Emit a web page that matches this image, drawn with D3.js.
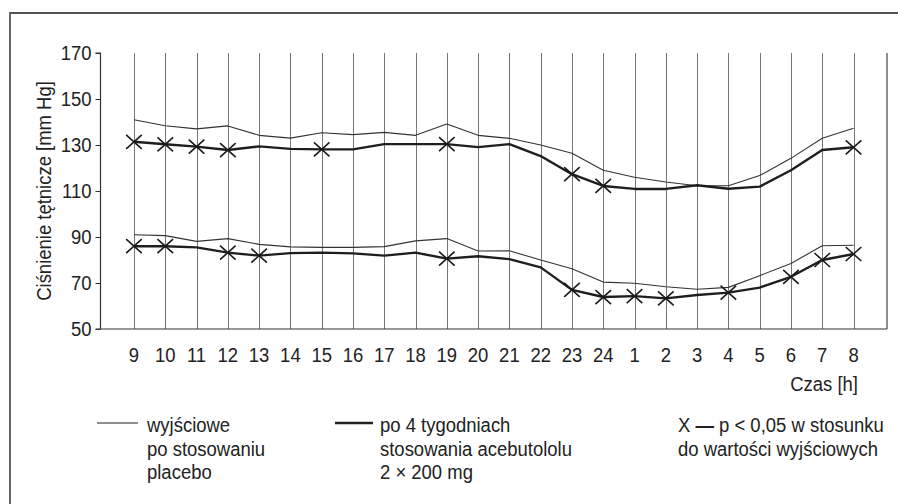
<!DOCTYPE html>
<html>
<head>
<meta charset="utf-8">
<script src="https://cdn.jsdelivr.net/npm/d3@7"></script>
<style>
  html, body { margin: 0; padding: 0; background: #fff; }
  svg { display: block; }
  text { font-family: "Liberation Sans", Arial, Helvetica, sans-serif; fill: #222; }
</style>
</head>
<body>
<svg id="chart" width="898" height="504"></svg>
<script>
// Hours of the 24-hour ambulatory recording
const hours = ["9","10","11","12","13","14","15","16","17","18","19","20","21","22","23","24","1","2","3","4","5","6","7","8"];

// Systolic pressure [mm Hg]
const placeboSys = [141, 138.4, 137, 138.3, 134.2, 133, 135.3, 134.5, 135.5, 134.2, 139.1, 134.2, 132.9, 130, 126.4, 119, 116, 113.9, 112.3, 112.3, 116.7, 124.2, 132.9, 137.3];
const acebSys    = [131.4, 130.3, 129.3, 127.8, 129.4, 128.3, 128.1, 128.1, 130.4, 130.4, 130.4, 129.1, 130.4, 125.2, 117.3, 112.2, 110.9, 110.9, 112.5, 111, 111.9, 119, 127.8, 129];

// Diastolic pressure [mm Hg]
const placeboDia = [91, 90.6, 88.1, 89.3, 86.8, 85.7, 85.5, 85.5, 85.8, 88.3, 89.3, 83.9, 84, 80, 76.2, 70.4, 69.9, 68.4, 67.3, 68.1, 73.2, 78.5, 86.2, 86.4];
const acebDia    = [86, 86, 85.5, 83.2, 81.9, 83, 83.2, 82.9, 81.9, 83.2, 80.6, 81.6, 80.4, 76.8, 67, 63.9, 64.3, 63.3, 64.8, 65.8, 68, 72.7, 80, 82.6];

// Hours with p < 0.05 versus baseline
const sysSignificant = ["9","10","11","12","15","19","23","24","8"];
const diaSignificant = ["9","10","12","13","19","23","24","1","2","4","6","7","8"];

const yTicks = [50, 70, 90, 110, 130, 150, 170];

// narrow text: regular sans squeezed horizontally
const SX = 0.88;
const FS = 21;

const svg = d3.select("#chart");

function label(parent, x, y, str, anchor, extra) {
  return parent.append("text")
    .attr("transform", `translate(${x},${y})${extra || ""} scale(${SX},1)`)
    .attr("text-anchor", anchor || "start")
    .attr("font-size", FS)
    .text(str);
}

// outer frame (open to the right and bottom)
svg.append("path")
  .attr("d", "M10,504 V13 H898")
  .attr("fill", "none")
  .attr("stroke", "#555")
  .attr("stroke-width", 1.8);

const plotLeft = 100.5, plotRight = 887, plotTop = 53, plotBottom = 329;

const x = d3.scalePoint().domain(hours).range([plotLeft, plotRight]).padding(1.07);
const y = d3.scaleLinear().domain([50, 170]).range([plotBottom, plotTop]);

// vertical hour lines
svg.append("g").selectAll("line")
  .data(hours)
  .join("line")
  .attr("x1", d => Math.round(x(d)) + 0.5)
  .attr("x2", d => Math.round(x(d)) + 0.5)
  .attr("y1", y(170))
  .attr("y2", y(50))
  .attr("stroke", "#777")
  .attr("stroke-width", 1);

// right edge of the plotting area
svg.append("line")
  .attr("x1", plotRight).attr("x2", plotRight)
  .attr("y1", y(170)).attr("y2", y(50))
  .attr("stroke", "#444").attr("stroke-width", 1.2);

// y axis
const yAxis = d3.axisLeft(y).tickValues(yTicks).tickSize(5).tickPadding(4);
const gy = svg.append("g").attr("transform", `translate(${plotLeft},0)`).call(yAxis);
gy.select(".domain").attr("stroke", "#333").attr("stroke-width", 1.2).attr("d", `M-5,${y(170)}H0V${y(50)}H-5`);
gy.selectAll(".tick line").attr("stroke", "#333");
gy.selectAll(".tick text")
  .attr("font-size", FS)
  .attr("font-family", '"Liberation Sans", Arial, sans-serif')
  .attr("fill", "#222")
  .attr("x", -9 / SX)
  .attr("transform", `scale(${SX},1)`);

// x axis baseline
svg.append("line")
  .attr("x1", plotLeft).attr("x2", plotRight)
  .attr("y1", y(50)).attr("y2", y(50))
  .attr("stroke", "#333").attr("stroke-width", 1.2);

// hour labels
const gx = svg.append("g");
hours.forEach(h => label(gx, x(h), 362, h, "middle"));

label(svg, 858, 391, "Czas [h]", "end");
label(svg, 51, (y(50) + y(170)) / 2, "Ciśnienie tętnicze [mm Hg]", "middle", " rotate(-90)");

// series lines
const line = d3.line().x((d, i) => x(hours[i])).y(d => y(d));

const series = [
  { values: placeboSys, width: 1.1, color: "#333" },
  { values: placeboDia, width: 1.1, color: "#333" },
  { values: acebSys, width: 2.4, color: "#1e1e1e" },
  { values: acebDia, width: 2.4, color: "#1e1e1e" }
];
svg.append("g").selectAll("path")
  .data(series)
  .join("path")
  .attr("d", d => line(d.values))
  .attr("fill", "none")
  .attr("stroke", d => d.color)
  .attr("stroke-width", d => d.width)
  .attr("stroke-linejoin", "round");

// significance markers on the treatment lines
const markers = [];
sysSignificant.forEach(h => markers.push({ h, v: acebSys[hours.indexOf(h)] }));
diaSignificant.forEach(h => markers.push({ h, v: acebDia[hours.indexOf(h)] }));
const mw = 7.8, mh = 7;
svg.append("g").selectAll("path")
  .data(markers)
  .join("path")
  .attr("d", d => {
    const cx = x(d.h), cy = y(d.v);
    return `M${cx - mw},${cy - mh}L${cx + mw},${cy + mh}M${cx - mw},${cy + mh}L${cx + mw},${cy - mh}`;
  })
  .attr("fill", "none")
  .attr("stroke", "#1a1a1a")
  .attr("stroke-width", 1.6);

// legend
const legendLines = [
  { x1: 97, x2: 138, width: 1.1 },
  { x1: 335, x2: 373, width: 2.4 }
];
svg.append("g").selectAll("line")
  .data(legendLines)
  .join("line")
  .attr("x1", d => d.x1).attr("x2", d => d.x2)
  .attr("y1", 423).attr("y2", 423)
  .attr("stroke", "#222")
  .attr("stroke-width", d => d.width);

const legendBlocks = [
  { x: 147, lines: ["wyjściowe", "po stosowaniu", "placebo"] },
  { x: 380, lines: ["po 4 tygodniach", "stosowania acebutololu", "2 × 200 mg"] }
];
const lg = svg.append("g");
legendBlocks.forEach(b => {
  b.lines.forEach((s, i) => label(lg, b.x, 432 + i * 23.5, s));
});

// significance key: bold dash between the marker letter and the description
const key = label(lg, 678, 432, "");
key.append("tspan").text("X ");
key.append("tspan").attr("font-weight", "bold").text("—");
key.append("tspan").text(" p < 0,05 w stosunku");
label(lg, 678, 455.5, "do wartości wyjściowych");
</script>
</body>
</html>
